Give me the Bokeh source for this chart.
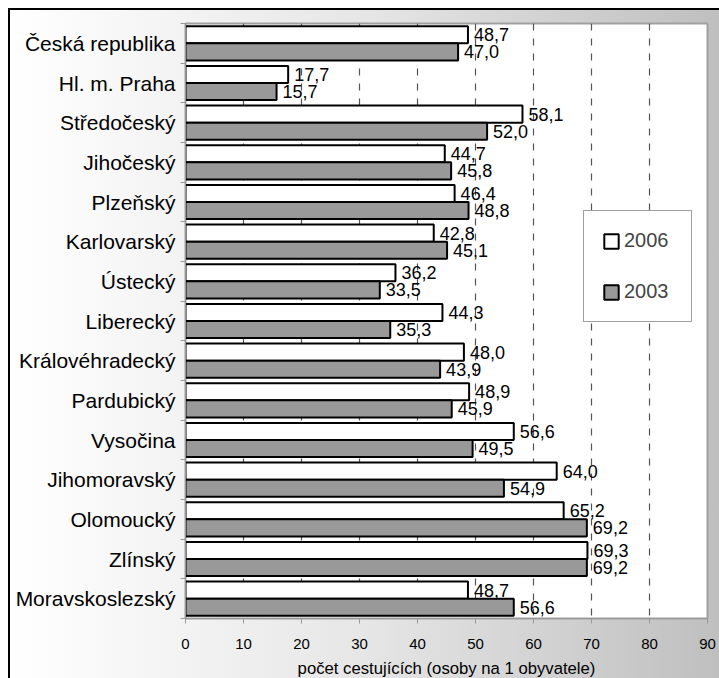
from bokeh.plotting import figure
from bokeh.models import Range1d, FixedTicker, Legend, LegendItem, ColumnDataSource
from bokeh.core.properties import value
from bokeh.embed import file_html
from bokeh.resources import INLINE

categories = ["Česká republika", "Hl. m. Praha", "Středočeský", "Jihočeský", "Plzeňský",
              "Karlovarský", "Ústecký", "Liberecký", "Královéhradecký", "Pardubický",
              "Vysočina", "Jihomoravský", "Olomoucký", "Zlínský", "Moravskoslezský"]
v2006 = [48.7, 17.7, 58.1, 44.7, 46.4, 42.8, 36.2, 44.3, 48.0, 48.9, 56.6, 64.0, 65.2, 69.3, 48.7]
v2003 = [47.0, 15.7, 52.0, 45.8, 48.8, 45.1, 33.5, 35.3, 43.9, 45.9, 49.5, 54.9, 69.2, 69.2, 56.6]
series_names = ["2006", "2003"]
x_ticks = [0, 10, 20, 30, 40, 50, 60, 70, 80, 90]
x_title = "počet cestujících (osoby na 1 obyvatele)"

FONT = "Liberation Sans"
n = len(categories)
centers = [i + 0.5 for i in range(n)]
bar_h = 0.43
off = 0.215


def fmt(v):
    return f"{v:.1f}".replace(".", ",")


src06 = ColumnDataSource(dict(y=[c - off for c in centers], right=v2006,
                              label=[fmt(v) for v in v2006]))
src03 = ColumnDataSource(dict(y=[c + off for c in centers], right=v2003,
                              label=[fmt(v) for v in v2003]))

p = figure(width=711, height=670, output_backend="svg", toolbar_location=None,
           x_range=Range1d(0, 90), y_range=Range1d(n, 0),
           min_border_left=175, min_border_right=14, min_border_top=13, min_border_bottom=61)
p.styles = {"background": "linear-gradient(to right, #ffffff 0%, #e6e6e6 50%, #bfbfbf 100%)",
            "border-left": "2px solid #000000", "border-top": "2px solid #000000",
            "box-sizing": "border-box", "margin-left": "8px", "margin-top": "8px"}
p.border_fill_color = None
p.background_fill_color = "white"
p.outline_line_color = "#a0a0a0"
p.outline_line_width = 2

r06 = p.hbar(y="y", right="right", left=0, height=bar_h, source=src06,
             fill_color="white", line_color="black", line_width=2)
r03 = p.hbar(y="y", right="right", left=0, height=bar_h, source=src03,
             fill_color="#999999", line_color="black", line_width=2)

for s in (src06, src03):
    p.text(x="right", y="y", text="label", source=s, x_offset=6,
           text_baseline="middle", text_align="left",
           text_font=value(FONT), text_font_size="18px", text_color="black")

# grid
p.ygrid.visible = False
p.xgrid.ticker = FixedTicker(ticks=x_ticks[1:-1])
p.xgrid.grid_line_color = "#555555"
p.xgrid.grid_line_dash = "7 8"
p.xgrid.grid_line_width = 1.2

# x axis
xa = p.xaxis[0]
xa.ticker = FixedTicker(ticks=x_ticks)
xa.major_tick_out = 5
xa.major_tick_in = 0
xa.minor_tick_out = 0
xa.minor_tick_in = 0
xa.axis_line_color = "#999999"
xa.major_tick_line_color = "#999999"
xa.major_label_text_font = FONT
xa.major_label_text_font_size = "15px"
xa.major_label_text_color = "black"
xa.major_label_standoff = 15
xa.axis_label = x_title
xa.axis_label_text_font = FONT
xa.axis_label_text_font_size = "16.7px"
xa.axis_label_text_font_style = "normal"
xa.axis_label_text_color = "black"
xa.axis_label_standoff = 7

# y axis
ya = p.yaxis[0]
ya.ticker = FixedTicker(ticks=centers, minor_ticks=list(range(n + 1)))
ya.major_label_overrides = {c: name for c, name in zip(centers, categories)}
ya.major_tick_out = 0
ya.major_tick_in = 0
ya.minor_tick_out = 5
ya.minor_tick_in = 0
ya.axis_line_color = "#999999"
ya.minor_tick_line_color = "#999999"
ya.major_label_text_font = FONT
ya.major_label_text_font_size = "21px"
ya.major_label_text_color = "black"
ya.major_label_standoff = 5

legend = Legend(items=[LegendItem(label=series_names[0], renderers=[r06]),
                       LegendItem(label=series_names[1], renderers=[r03])],
                location=(398, 296), orientation="vertical",
                padding=18, spacing=28, glyph_width=18, glyph_height=18,
                label_standoff=4, label_width=49, label_height=20,
                label_text_font=FONT, label_text_font_size="20px",
                border_line_color="#404040", border_line_width=1,
                background_fill_color="white", background_fill_alpha=1)
p.add_layout(legend, "center")

open("out.html", "w").write(file_html(p, INLINE))
